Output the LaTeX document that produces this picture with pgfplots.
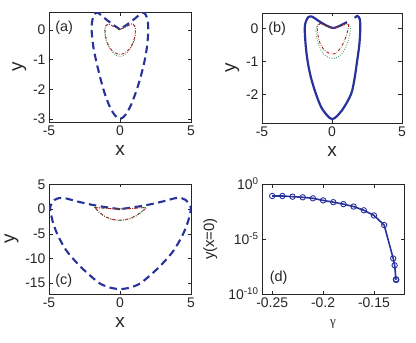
\documentclass[border=0pt]{standalone}
\usepackage{pgfplots}
\pgfplotsset{compat=1.18}
\usepackage{fontspec}
\setmainfont{Liberation Sans}
\newfontfamily\serifg{Liberation Serif}
\definecolor{mblue}{RGB}{40,50,155}
\definecolor{mred}{RGB}{165,35,35}
\definecolor{mgreen}{RGB}{40,140,70}
\definecolor{axgray}{RGB}{38,38,38}
\pgfplotsset{
  panel/.style={scale only axis, width=142bp, height=110bp,
    axis line style={axgray, line width=0.5bp},
    tick align=inside, tick style={axgray, line width=0.5bp},
    major tick length=3.5bp,
    ticklabel style={font=\fontsize{14}{16}\selectfont, text=axgray},
    label style={font=\fontsize{19}{21}\selectfont, text=axgray},
    xlabel style={yshift=-3bp},
    /pgf/number format/assume math mode=true,
    anchor=south west},
  bdash/.style={mblue, line width=2.1bp, dash pattern=on 7.5bp off 4.5bp, smooth, tension=0.5},
  rdd/.style={mred, line width=0.9bp, dash pattern=on 3bp off 1.5bp on 0.6bp off 1.5bp, smooth, tension=0.5},
  gdot/.style={mgreen, line width=1.1bp, line cap=round, dash pattern=on 0bp off 2.4bp, smooth, tension=0.5},
}
\begin{document}
\begin{tikzpicture}
\useasboundingbox (0,0) rectangle (416bp,343bp);
% (a)
\begin{axis}[panel, at={(49bp,221bp)}, xmin=-5, xmax=5, ymin=-3.1, ymax=0.6,
  xtick={-5,0,5}, ytick={-3,-2,-1,0}, xlabel={x}, ylabel={y}]
\addplot[bdash] coordinates {(0,0.01) (-0.5,0.18) (-1.0,0.36) (-1.35,0.5) (-1.6,0.58) (-1.85,0.5) (-1.97,0.25) (-2.0,0) (-1.9,-0.5) (-1.7,-1.0) (-1.45,-1.5) (-1.17,-2.0) (-0.8,-2.5) (-0.4,-2.85) (0,-3.0) (0.4,-2.85) (0.8,-2.5) (1.19,-2.0) (1.5,-1.5) (1.75,-1.0) (1.92,-0.5) (1.99,0) (1.95,0.3) (1.8,0.52) (1.6,0.58) (1.35,0.5) (1.0,0.36) (0.5,0.18) (0,0.01)};
\addplot[gdot] coordinates {(0,0.01) (-0.4,0.1) (-0.8,0.2) (-1.0,0.17) (-1.08,0.0) (-1.05,-0.2) (-0.95,-0.4) (-0.75,-0.62) (-0.45,-0.8) (0,-0.9) (0.45,-0.8) (0.75,-0.62) (0.97,-0.4) (1.08,-0.2) (1.11,0) (1.03,0.17) (0.8,0.2) (0.4,0.1) (0,0.01)};
\addplot[rdd] coordinates {(0,0.01) (-0.4,0.1) (-0.8,0.19) (-0.98,0.15) (-1.05,0.0) (-1.02,-0.2) (-0.92,-0.4) (-0.72,-0.6) (-0.42,-0.75) (0,-0.83) (0.42,-0.75) (0.72,-0.6) (0.94,-0.4) (1.05,-0.2) (1.08,0) (1.0,0.15) (0.8,0.19) (0.4,0.1) (0,0.01)};
\node[anchor=north west, font=\fontsize{14.5}{16}\selectfont, text=axgray] at (rel axis cs:0.02,0.95) {(a)};
\end{axis}
% (b)
\begin{axis}[panel, at={(262bp,220bp)}, width=140bp, xmin=-5, xmax=5, ymin=-2.88, ymax=0.48,
  xtick={-5,0,5}, ytick={-2,-1,0}, xlabel={x}, ylabel={y}]
\addplot[mblue, line width=2.2bp, smooth, tension=0.5] coordinates {(1.07,0.2) (0.6,0.1) (0.1,0.02) (-0.5,0.12) (-1.0,0.25) (-1.43,0.37) (-1.7,0.35) (-1.88,0.2) (-1.95,0) (-1.88,-0.5) (-1.74,-1.0) (-1.5,-1.5) (-1.14,-2.0) (-0.7,-2.45) (0,-2.76) (0.7,-2.5) (1.36,-2.0) (1.62,-1.5) (1.79,-1.0) (1.95,-0.5) (2.02,0) (1.98,0.3) (1.8,0.39) (1.62,0.33)};
\addplot[gdot] coordinates {(0.1,0.01) (-0.5,0.1) (-0.95,0.15) (-1.14,0.0) (-1.1,-0.25) (-0.9,-0.55) (-0.55,-0.8) (0,-0.91) (0.5,-0.85) (0.95,-0.6) (1.2,-0.3) (1.31,0.0) (1.2,0.15) (0.7,0.08) (0.1,0.01)};
\addplot[rdd] coordinates {(0.1,0.01) (-0.4,0.08) (-0.83,0.16) (-1.05,0.05) (-1.0,-0.2) (-0.85,-0.45) (-0.55,-0.65) (-0.15,-0.76) (0.2,-0.76) (0.6,-0.6) (0.9,-0.35) (1.1,-0.1) (1.19,0.11) (1.0,0.16) (0.6,0.08) (0.1,0.01)};
\node[anchor=north west, font=\fontsize{14.5}{16}\selectfont, text=axgray] at (rel axis cs:0.02,0.95) {(b)};
\end{axis}
% (c)
\begin{axis}[panel, at={(49bp,49bp)}, xmin=-5, xmax=5, ymin=-17.2, ymax=5.1,
  xtick={-5,0,5}, ytick={-15,-10,-5,0,5}, xlabel={x}, ylabel={y}]
\addplot[bdash] coordinates {(0,0) (-1,0.4) (-2,0.9) (-3,1.55) (-4.03,2.3) (-4.6,1.9) (-4.9,0.6) (-4.92,0) (-4.73,-2.6) (-4.38,-5.3) (-3.8,-8.3) (-3.1,-10.7) (-2.4,-12.7) (-1.45,-15.0) (-0.7,-15.9) (0,-16.2) (0.7,-15.9) (1.45,-15.0) (2.4,-12.7) (3.1,-10.7) (3.8,-8.3) (4.4,-5.3) (4.78,-2.6) (5.0,0) (4.95,0.7) (4.6,1.9) (4.05,2.3) (3,1.55) (2,0.9) (1,0.4) (0,0)};
\addplot[gdot] coordinates {(-1.8,0.35) (-1.2,0.22) (-0.6,0.1) (0,0.05) (0.6,0.1) (1.2,0.2) (1.85,0.32) (1.62,-0.35) (1.15,-1.4) (0.6,-2.05) (0,-2.35) (-0.6,-2.1) (-0.98,-1.7) (-1.45,-0.75) (-1.8,0.35)};
\addplot[rdd] coordinates {(-1.78,0.34) (-1.2,0.22) (-0.6,0.1) (0,0.05) (0.6,0.1) (1.2,0.2) (1.83,0.3) (1.6,-0.3) (1.13,-1.3) (0.6,-1.95) (0,-2.23) (-0.6,-2.0) (-0.97,-1.6) (-1.43,-0.67) (-1.78,0.34)};
\node[anchor=south west, font=\fontsize{14.5}{16}\selectfont, text=axgray] at (rel axis cs:0.02,0.03) {(c)};
\end{axis}
% (d)
\begin{axis}[panel, at={(262bp,49bp)}, ymode=log, xmin=-0.26, xmax=-0.1205, ymin=1e-10, ymax=1,
  xtick={-0.25,-0.2,-0.15}, ytick={1e-10,1e-5,1}, yticklabels={10\textsuperscript{-10},10\textsuperscript{-5},10\textsuperscript{0}},
  yminorticks=false,
  xticklabel style={/pgf/number format/fixed},
  xlabel={\serifg\fontsize{13}{15}\selectfont γ},
  xlabel style={yshift=-2bp},
  ylabel={y(x=0)},
  ylabel style={font=\fontsize{15}{17}\selectfont, at={(axis description cs:-0.365,0.5)}, anchor=center}]
\addplot[mblue, line width=1.6bp, mark=o, mark size=2.7bp, mark options={line width=0.9bp, solid}] table {
x y
-0.25 0.0813
-0.24 0.0813
-0.23 0.0708
-0.22 0.0617
-0.21 0.0501
-0.20 0.0324
-0.19 0.0224
-0.18 0.0148
-0.17 0.00891
-0.16 0.00407
-0.15 0.00138
-0.14 1.86e-4
-0.1311 1.70e-7
-0.1297 4.07e-8
-0.1284 2.19e-9
-0.1283 2.0e-9
-0.1282 1.9e-9
};
\node[anchor=south west, font=\fontsize{14.5}{16}\selectfont, text=axgray] at (rel axis cs:0.03,0.05) {(d)};
\end{axis}
\end{tikzpicture}
\end{document}
